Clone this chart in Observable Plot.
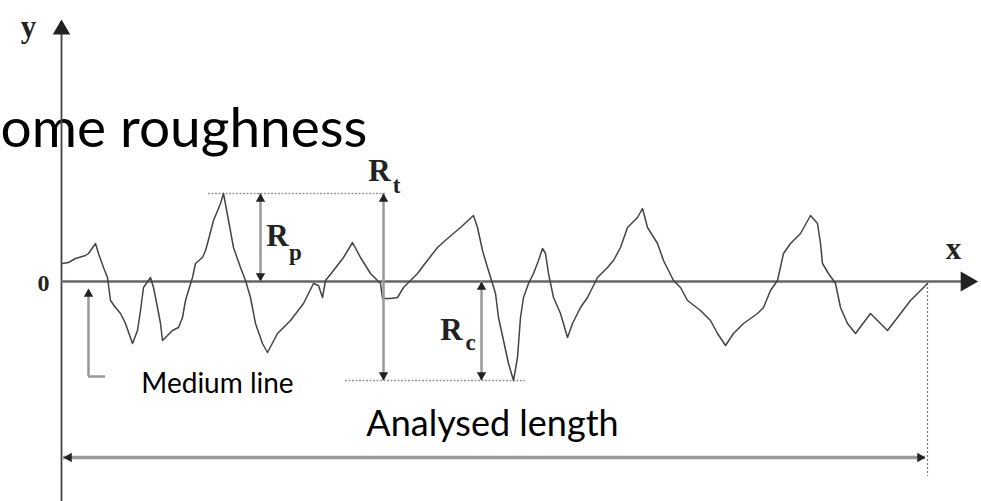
<!DOCTYPE html>
<html><head><meta charset="utf-8">
<script src="https://cdn.jsdelivr.net/npm/d3@7"></script>
<script src="https://cdn.jsdelivr.net/npm/@observablehq/plot@0.6"></script>
<style>html,body{margin:0;padding:0;background:#fff;overflow:hidden}</style>
</head><body><div id="chart"></div>
<script>
// Roughness profile (x = position along the analysed length, y = height relative to the medium line)
const profileX = [0.1,0.7,1.4,2.4,2.7,3.4,3.7,4.2,4.6,4.9,
  5.4,5.9,6.4,7.1,7.6,7.9,8.2,8.9,9.2,9.6,
  9.9,10.1,10.4,11.1,11.7,12.1,12.4,12.7,13.1,13.4,
  14.1,14.4,14.6,15.2,15.9,16.2,16.7,17.2,17.9,18.4,
  18.9,19.4,20.1,20.6,21.6,22.9,24.2,25.2,25.7,26.1,
  26.4,27.2,28.2,29.1,29.9,30.9,31.9,32.1,32.9,33.6,
  34.2,34.9,35.6,36.2,37.6,38.6,39.9,41.2,41.6,42.1,
  42.6,43.1,43.4,43.7,44.2,44.7,45.2,45.6,45.9,46.2,
  46.7,47.2,47.7,48.1,48.4,48.7,49.2,49.9,50.6,51.1,
  51.9,52.6,53.6,54.6,55.2,55.9,56.6,57.6,58.1,58.6,
  59.6,60.2,61.2,61.9,62.6,63.9,64.9,65.6,66.4,67.2,
  68.2,69.6,70.2,70.9,71.6,72.2,72.9,73.9,74.9,75.6,
  75.9,76.1,76.7,77.4,77.9,78.6,79.4,80.9,82.6,83.6,
  84.9,86.6];
const profileY = [1.8,1.9,2.3,2.6,2.8,3.8,2.8,1.4,0.4,-1.9,
  -2.6,-3.2,-4.2,-6.2,-4.9,-2.9,-0.6,0.4,-0.6,-2.6,
  -4.2,-5.9,-5.6,-4.9,-4.6,-3.6,-1.9,-0.9,0.4,1.8,
  2.4,3.1,3.8,6.1,7.8,8.8,6.1,3.4,1.4,0.1,
  -1.6,-4.2,-6.2,-7.1,-5.2,-3.9,-2.2,-0.2,-0.4,-1.6,
  0.1,1.1,2.4,3.9,2.4,0.8,-0.2,-1.7,-1.7,-1.6,
  -0.6,0.1,0.8,1.6,3.4,4.3,5.4,6.6,5.4,3.1,
  1.4,-0.2,-1.2,-3.6,-5.9,-8.2,-9.9,-7.6,-3.6,-1.6,
  -0.2,0.8,2.1,3.3,2.8,0.8,-1.6,-3.2,-5.6,-4.2,
  -2.6,-1.6,0.4,1.4,2.1,3.4,5.4,6.4,7.3,5.4,
  3.8,2.1,0.1,-0.6,-1.9,-2.9,-3.9,-5.2,-6.4,-5.2,
  -4.2,-3.2,-2.6,-0.9,0.1,2.8,3.8,4.8,6.6,5.8,
  3.8,1.8,0.8,-0.2,-2.6,-4.2,-5.2,-3.2,-4.9,-3.6,
  -1.9,-0.2];

// Reference levels
const peakLevel = 8.8;     // highest peak
const valleyLevel = -9.9;  // deepest valley
const lengthStart = 0.2, lengthEnd = 86.4, lengthLevel = -17.6;

// Dimension markers: Rp, Rt, Rc
const dimNames = ["R", "R", "R"];
const dimSubs = ["p", "t", "c"];
const dimX = [19.9, 32.2, 42.0];
const dimTop = [8.8, 8.8, 0];
const dimBottom = [0, -9.9, -9.9];
const labelX = [21.6, 31.8, 39.0];
const labelY = [4.5, 11.0, -4.9];
const subX = [23.4, 33.5, 40.9];
const subY = [2.9, 9.6, -6.1];

const profile = profileX.map((x, i) => ({x, y: profileY[i]}));
const dims = dimX.map((x, i) => ({x, top: dimTop[i], bottom: dimBottom[i], name: dimNames[i], sub: dimSubs[i], lx: labelX[i], ly: labelY[i], sx: subX[i], sy: subY[i]}));

const head = 0.55; // arrowhead centroid offset from tip (data units)
const ink = "#222";
const serif = "Liberation Serif, DejaVu Serif, serif";
const sans = "Lato, Open Sans, sans-serif";

const chart = Plot.plot({
  width: 981, height: 501,
  margin: 0,
  x: {domain: [-6.1, 92.0], axis: null},
  y: {domain: [-22, 28.1], axis: null},
  marks: [
    // title
    Plot.text(["ome roughness"], {x: -6.1, y: 15.2, text: d => d, textAnchor: "start", fontSize: 55, fontFamily: sans, fill: "#000"}),
    // y axis
    Plot.ruleX([0], {y1: -22, y2: 25.5, stroke: "#444", strokeWidth: 1.8}),
    Plot.dot([0], {x: 0, y: 25.2, symbol: "triangle", r: 6.5, fill: ink, stroke: null}),
    // x axis (medium line)
    Plot.ruleY([0], {x1: 0, x2: 90.5, stroke: "#666", strokeWidth: 2.5}),
    Plot.dot([0], {x: 90.5, y: 0, symbol: "triangle", r: 7.5, rotate: 90, fill: ink, stroke: null}),
    // peak & valley reference lines
    Plot.ruleY([peakLevel], {x1: 14.7, x2: 32.4, stroke: "#999", strokeWidth: 1.5, strokeDasharray: "2,1.5"}),
    Plot.ruleY([valleyLevel], {x1: 28.4, x2: 46.4, stroke: "#999", strokeWidth: 1.5, strokeDasharray: "2,1.5"}),
    // end of analysed length (dotted)
    Plot.ruleX([profileX[profileX.length - 1]], {y1: profileY[profileY.length - 1], y2: -19.5, stroke: "#777", strokeWidth: 1.2, strokeDasharray: "2,2"}),
    // profile
    Plot.line(profile, {x: "x", y: "y", stroke: "#444", strokeWidth: 1.5, curve: "linear"}),
    // dimension arrows
    Plot.ruleX(dims, {x: "x", y1: "top", y2: "bottom", stroke: "#999", strokeWidth: 2.5}),
    Plot.dot(dims, {x: "x", y: d => d.top - head, symbol: "triangle", r: 3.5, fill: ink, stroke: null}),
    Plot.dot(dims, {x: "x", y: d => d.bottom + head, symbol: "triangle", r: 3.5, rotate: 180, fill: ink, stroke: null}),
    Plot.text(dims, {x: "lx", y: "ly", text: "name", fontSize: 31, fontWeight: "bold", fontFamily: serif, fill: "#222"}),
    Plot.text(dims, {x: "sx", y: "sy", text: "sub", fontSize: 23, fontWeight: "bold", fontFamily: serif, fill: "#222"}),
    // medium line pointer
    Plot.ruleX([2.7], {y1: -0.9, y2: -9.5, stroke: "#999", strokeWidth: 2.5}),
    Plot.ruleY([-9.5], {x1: 2.7, x2: 4.4, stroke: "#999", strokeWidth: 2.5}),
    Plot.dot([0], {x: 2.7, y: -0.7 - head, symbol: "triangle", r: 3.5, fill: ink, stroke: null}),
    Plot.text(["Medium line"], {x: 15.6, y: -10.3, text: d => d, fontSize: 28, fontFamily: sans, fill: "#000"}),
    // analysed length arrow
    Plot.ruleY([lengthLevel], {x1: lengthStart, x2: lengthEnd, stroke: "#999", strokeWidth: 3.5}),
    Plot.dot([0], {x: lengthStart + head, y: lengthLevel, symbol: "triangle", r: 3.5, rotate: -90, fill: ink, stroke: null}),
    Plot.dot([0], {x: lengthEnd - head, y: lengthLevel, symbol: "triangle", r: 3.5, rotate: 90, fill: ink, stroke: null}),
    Plot.text(["Analysed length"], {x: 43.1, y: -14.25, text: d => d, fontSize: 36, fontFamily: sans, fill: "#000"}),
    // axis labels
    Plot.text(["y"], {x: -3.3, y: 25.4, text: d => d, fontSize: 31, fontWeight: "bold", fontFamily: serif, fill: "#222"}),
    Plot.text(["x"], {x: 89.2, y: 3.2, text: d => d, fontSize: 31, fontWeight: "bold", fontFamily: serif, fill: "#222"}),
    Plot.text(["0"], {x: -1.8, y: -0.2, text: d => d, fontSize: 24, fontWeight: "bold", fontFamily: serif, fill: "#222"})
  ]
});
document.getElementById("chart").appendChild(chart);
</script>
</body></html>
